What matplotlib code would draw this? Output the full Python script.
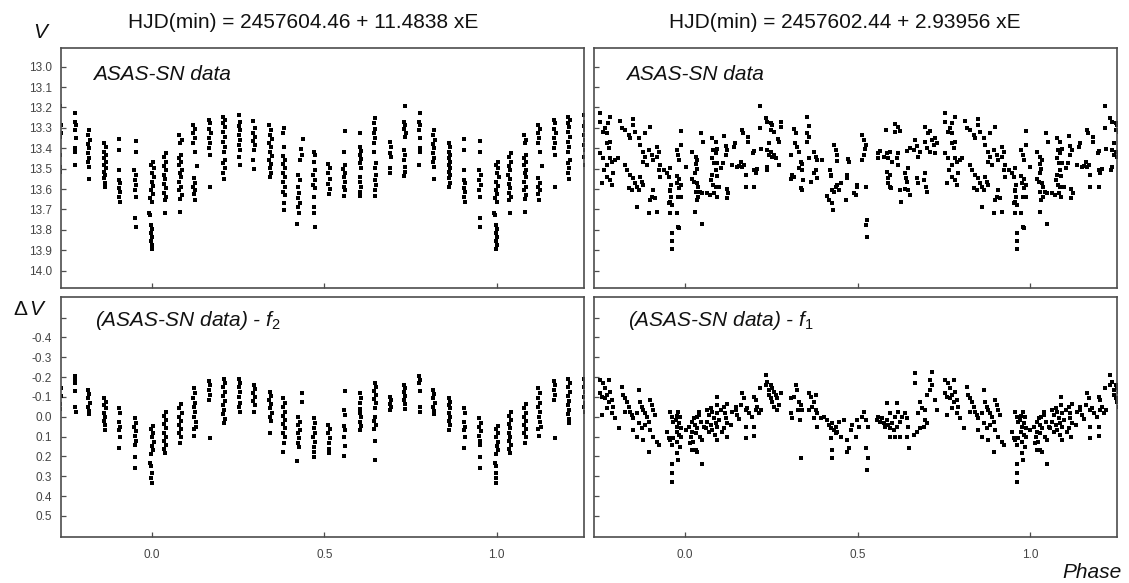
import numpy as np
import matplotlib
matplotlib.use("Agg")
import matplotlib.pyplot as plt
from matplotlib.ticker import FixedLocator, FixedFormatter

plt.rcParams['font.family'] = ['Liberation Sans', 'DejaVu Sans']
plt.rcParams['mathtext.fontset'] = 'custom'
plt.rcParams['mathtext.rm'] = 'Liberation Sans'
plt.rcParams['mathtext.it'] = 'Liberation Sans:italic'
plt.rcParams['axes.unicode_minus'] = False

# ---------------- titles / labels ----------------
title_left = "HJD(min) = 2457604.46 + 11.4838 xE"
title_right = "HJD(min) = 2457602.44 + 2.93956 xE"
label_top = "ASAS-SN data"
label_bl = r"(ASAS-SN data) - $f_2$"
label_br = r"(ASAS-SN data) - $f_1$"

# ---------------- top-left: V vs phase (P = 11.4838 d) ----------------
tl_phase = [
    0.004, -0.002, 0.005, 0.000, 0.006, -0.001, 0.004, -0.003, 0.002, -0.005, 0.001, -0.008, -0.004, -0.003, 0.000, -0.002, 0.001, -0.002, 0.000, -0.001,
    0.042, 0.036, 0.041, 0.035, 0.040, 0.034, 0.039, 0.035, 0.040, 0.036, 0.041, 0.037, 0.038,
    0.080, 0.086, 0.081, 0.084, 0.079, 0.085, 0.080, 0.086, 0.081, 0.085, 0.079, 0.084, 0.080, 0.086, 0.082, 0.083,
    0.119, 0.125, 0.120, 0.124, 0.119, 0.126, 0.130, 0.121, 0.126, 0.120, 0.125, 0.121, 0.124,
    0.166, 0.170, 0.165, 0.171, 0.166, 0.170, 0.165, 0.169, 0.168,
    0.207, 0.212, 0.206, 0.211, 0.207, 0.212, 0.206, 0.211, 0.208, 0.212, 0.207, 0.211, 0.206, 0.210,
    0.254, 0.257, 0.252, 0.256, 0.253, 0.257, 0.252, 0.256, 0.254, 0.255,
    0.294, 0.298, 0.293, 0.298, 0.294, 0.299, 0.295, 0.294, 0.296,
    0.341, 0.346, 0.342, 0.347, 0.341, 0.346, 0.342, 0.347, 0.341, 0.346, 0.342, 0.346, 0.343,
    0.382, 0.381, 0.383, 0.380, 0.386, 0.380, 0.386, 0.381, 0.386, 0.380, 0.385, 0.381, 0.385, 0.382, 0.383,
    0.437, 0.432, 0.435, 0.431, 0.424, 0.429, 0.423, 0.428, 0.424, 0.429, 0.425, 0.428, 0.422,
    0.469, 0.474, 0.469, 0.473, 0.468, 0.473, 0.468, 0.472, 0.469, 0.471, 0.470, 0.472,
    0.512, 0.517, 0.512, 0.516, 0.511, 0.516, 0.513,
    0.560, 0.557, 0.560, 0.555, 0.560, 0.556, 0.561, 0.556, 0.560, 0.558,
    0.604, 0.603, 0.607, 0.603, 0.607, 0.603, 0.606, 0.604, 0.604, 0.606, 0.604, 0.605,
    0.646, 0.645, 0.647, 0.643, 0.648, 0.643, 0.645, 0.650, 0.646, 0.651, 0.647, 0.650, 0.646, 0.648,
    0.691, 0.694, 0.690, 0.694, 0.691, 0.692,
    0.733, 0.731, 0.735, 0.731, 0.736, 0.733, 0.732, 0.733, 0.732, 0.733, 0.734, 0.732,
    0.777, 0.776, 0.779, 0.776, 0.779, 0.778, 0.778, 0.776,
    0.819, 0.816, 0.820, 0.815, 0.819, 0.815, 0.819, 0.816, 0.818, 0.817,
    0.862, 0.866, 0.861, 0.866, 0.861, 0.866, 0.862, 0.866, 0.861, 0.865, 0.862, 0.865, 0.863,
    0.906, 0.906, 0.904, 0.905, 0.909, 0.905, 0.909, 0.906, 0.908,
    0.953, 0.953, 0.949, 0.954, 0.950, 0.954, 0.950, 0.953, 0.951, 0.953,
]
tl_v = [
    13.465, 13.482, 13.498, 13.519, 13.542, 13.563, 13.585, 13.604, 13.624, 13.645, 13.661, 13.715, 13.727, 13.776, 13.797, 13.817, 13.836, 13.857, 13.874, 13.895,
    13.421, 13.441, 13.465, 13.487, 13.509, 13.531, 13.552, 13.575, 13.596, 13.617, 13.637, 13.656, 13.715,
    13.335, 13.359, 13.375, 13.433, 13.449, 13.465, 13.482, 13.506, 13.523, 13.542, 13.563, 13.588, 13.604, 13.629, 13.650, 13.710,
    13.286, 13.307, 13.326, 13.351, 13.375, 13.416, 13.487, 13.547, 13.568, 13.588, 13.604, 13.624, 13.656,
    13.261, 13.277, 13.307, 13.326, 13.351, 13.375, 13.400, 13.433, 13.591,
    13.245, 13.261, 13.277, 13.294, 13.318, 13.343, 13.367, 13.392, 13.416, 13.457, 13.473, 13.498, 13.523, 13.552,
    13.237, 13.269, 13.290, 13.310, 13.335, 13.359, 13.384, 13.408, 13.441, 13.482,
    13.264, 13.302, 13.323, 13.343, 13.362, 13.384, 13.408, 13.457, 13.503,
    13.286, 13.310, 13.335, 13.356, 13.375, 13.395, 13.416, 13.438, 13.457, 13.477, 13.498, 13.519, 13.539,
    13.302, 13.326, 13.392, 13.438, 13.457, 13.477, 13.498, 13.519, 13.539, 13.563, 13.588, 13.612, 13.629, 13.670, 13.702,
    13.356, 13.405, 13.433, 13.457, 13.531, 13.555, 13.588, 13.617, 13.645, 13.670, 13.686, 13.719, 13.771,
    13.416, 13.433, 13.465, 13.506, 13.531, 13.555, 13.580, 13.596, 13.637, 13.686, 13.719, 13.787,
    13.477, 13.498, 13.523, 13.552, 13.575, 13.601, 13.624,
    13.313, 13.416, 13.482, 13.503, 13.523, 13.542, 13.563, 13.588, 13.607, 13.634,
    13.323, 13.392, 13.411, 13.433, 13.454, 13.473, 13.498, 13.542, 13.563, 13.588, 13.612, 13.634,
    13.253, 13.277, 13.307, 13.326, 13.351, 13.375, 13.416, 13.473, 13.498, 13.531, 13.555, 13.580, 13.604, 13.634,
    13.367, 13.392, 13.421, 13.441, 13.498, 13.519,
    13.191, 13.269, 13.286, 13.307, 13.326, 13.343, 13.408, 13.433, 13.457, 13.493, 13.514, 13.536,
    13.225, 13.269, 13.286, 13.310, 13.351, 13.400, 13.416, 13.482,
    13.310, 13.335, 13.359, 13.379, 13.400, 13.425, 13.449, 13.465, 13.493, 13.552,
    13.375, 13.395, 13.416, 13.433, 13.449, 13.465, 13.482, 13.498, 13.514, 13.531, 13.547, 13.568, 13.588,
    13.356, 13.408, 13.506, 13.555, 13.572, 13.596, 13.612, 13.637, 13.661,
    13.362, 13.416, 13.506, 13.531, 13.555, 13.580, 13.604, 13.640, 13.743, 13.787,
]

# ---------------- bottom-left: residual dV vs phase (P = 11.4838 d) ----------------
bl_phase = [
    0.003, -0.002, 0.004, -0.001, 0.005, 0.000, 0.003, -0.003, -0.004, -0.002, -0.001, -0.002, -0.001,
    0.041, 0.036, 0.041, 0.035, 0.040, 0.035, 0.040, 0.036, 0.041, 0.036, 0.038,
    0.085, 0.080, 0.086, 0.080, 0.085, 0.079, 0.084, 0.080, 0.085, 0.081,
    0.121, 0.125, 0.120, 0.126, 0.121, 0.126, 0.122, 0.127, 0.128, 0.121, 0.123,
    0.166, 0.170, 0.165, 0.170, 0.166, 0.168,
    0.208, 0.212, 0.207, 0.212, 0.207, 0.211, 0.206, 0.210, 0.207, 0.211, 0.209,
    0.254, 0.257, 0.252, 0.256, 0.253, 0.257, 0.254, 0.255,
    0.295, 0.299, 0.294, 0.298, 0.294, 0.298, 0.296,
    0.342, 0.346, 0.341, 0.346, 0.342, 0.347, 0.342, 0.345, 0.343,
    0.381, 0.386, 0.381, 0.386, 0.380, 0.385, 0.381, 0.386, 0.381, 0.385, 0.382, 0.381,
    0.436, 0.436, 0.425, 0.430, 0.424, 0.429, 0.424, 0.428, 0.425, 0.427, 0.422,
    0.469, 0.474, 0.469, 0.473, 0.468, 0.472, 0.469, 0.471, 0.470,
    0.512, 0.517, 0.512, 0.516, 0.513, 0.515, 0.514,
    0.560, 0.556, 0.560, 0.557, 0.561, 0.556, 0.559, 0.558,
    0.604, 0.607, 0.603, 0.605, 0.603, 0.607, 0.603, 0.606, 0.604,
    0.646, 0.650, 0.645, 0.649, 0.645, 0.650, 0.646, 0.648, 0.644, 0.649, 0.645, 0.647, 0.648,
    0.691, 0.694, 0.690, 0.693, 0.692,
    0.732, 0.735, 0.731, 0.735, 0.732, 0.734, 0.733,
    0.776, 0.778, 0.776, 0.778, 0.777, 0.779,
    0.815, 0.819, 0.815, 0.820, 0.816, 0.819, 0.817,
    0.862, 0.866, 0.861, 0.866, 0.862, 0.865, 0.861, 0.865, 0.863,
    0.905, 0.909, 0.905, 0.909, 0.906, 0.908, 0.906,
    0.950, 0.954, 0.949, 0.954, 0.950, 0.953, 0.951, 0.952, 0.951,
]
bl_dv = [
    0.047, 0.063, 0.084, 0.104, 0.126, 0.147, 0.168, 0.188, 0.231, 0.251, 0.285, 0.310, 0.332,
    -0.026, -0.004, 0.016, 0.037, 0.058, 0.080, 0.100, 0.121, 0.142, 0.164, 0.181,
    -0.064, -0.042, -0.021, 0.000, 0.020, 0.042, 0.063, 0.084, 0.104, 0.131,
    -0.143, -0.118, -0.093, -0.071, -0.051, -0.026, 0.000, 0.025, 0.050, 0.063, 0.097,
    -0.182, -0.160, -0.135, -0.110, -0.084, 0.109,
    -0.188, -0.168, -0.148, -0.126, -0.104, -0.081, -0.059, -0.034, -0.014, 0.013, 0.033,
    -0.188, -0.168, -0.148, -0.126, -0.101, -0.071, -0.047, -0.026,
    -0.160, -0.138, -0.118, -0.101, -0.081, -0.059, -0.026,
    -0.126, -0.104, -0.084, -0.064, -0.042, -0.021, 0.000, 0.020, 0.080,
    -0.093, -0.071, -0.047, -0.026, -0.004, 0.016, 0.037, 0.058, 0.080, 0.100, 0.134, 0.176,
    -0.118, -0.076, 0.003, 0.025, 0.042, 0.067, 0.084, 0.109, 0.134, 0.154, 0.221,
    0.008, 0.030, 0.058, 0.080, 0.100, 0.126, 0.151, 0.176, 0.204,
    0.042, 0.063, 0.084, 0.109, 0.134, 0.164, 0.181,
    -0.131, -0.034, -0.009, 0.047, 0.067, 0.104, 0.147, 0.198,
    -0.118, -0.093, -0.071, -0.037, -0.017, 0.003, 0.025, 0.047, 0.067,
    -0.172, -0.152, -0.131, -0.110, -0.088, -0.068, -0.042, 0.000, 0.020, 0.042, 0.063, 0.121, 0.218,
    -0.101, -0.084, -0.064, -0.047, -0.034,
    -0.160, -0.143, -0.126, -0.104, -0.084, -0.064, -0.037,
    -0.205, -0.185, -0.168, -0.131, -0.047, -0.026,
    -0.135, -0.115, -0.093, -0.071, -0.051, -0.031, -0.014,
    -0.093, -0.076, -0.059, -0.042, -0.021, 0.000, 0.020, 0.042, 0.067,
    -0.042, -0.021, 0.025, 0.050, 0.067, 0.104, 0.159,
    0.008, 0.030, 0.050, 0.070, 0.097, 0.121, 0.142, 0.201, 0.260,
]

# ---------------- top-right: V vs phase (P = 2.93956 d) ----------------
tr_phase = [
    -0.042, -0.045, -0.042, -0.047, -0.045, -0.038, -0.039, -0.039,
    -0.011, -0.013, -0.025, -0.021, -0.018, 0.001, -0.025, -0.018, -0.023, -0.013, -0.018, -0.021, -0.013, -0.025, -0.021, -0.018,
    0.021, 0.030, 0.035, 0.030, 0.033, 0.028, 0.021, 0.026, 0.035, 0.037, 0.030, 0.037, 0.033, 0.043, 0.050, 0.028, 0.050, 0.045, 0.053,
    0.079, 0.088, 0.082, 0.093, 0.088, 0.079, 0.084, 0.093, 0.088, 0.079, 0.091, 0.074, 0.082, 0.088, 0.064, 0.072, 0.084, 0.091, 0.098,
    0.113, 0.117, 0.122, 0.117, 0.111, 0.103, 0.120, 0.120, 0.124,
    0.144, 0.142, 0.137, 0.151, 0.161, 0.166, 0.156, 0.171, 0.166, 0.169, 0.182, 0.182, 0.175, 0.175,
    0.200, 0.200, 0.204, 0.198, 0.200, 0.219, 0.209,
    0.217, 0.217, 0.233, 0.238, 0.248, 0.253, 0.250, 0.258, 0.243, 0.238, 0.248, 0.243, 0.258, 0.269, 0.272, 0.277, 0.279, 0.272, 0.238, 0.236, 0.253, 0.262,
    0.306, 0.316, 0.321, 0.318, 0.325, 0.330, 0.335, 0.340, 0.330, 0.340, 0.311, 0.316, 0.308, 0.343, 0.335, 0.340,
    0.354, 0.359, 0.354, 0.359, 0.354, 0.359, 0.374, 0.379, 0.383, 0.379, 0.374, 0.383, 0.364, 0.398,
    0.420, 0.424, 0.432, 0.437, 0.439, 0.441, 0.422, 0.427, 0.437, 0.441, 0.432, 0.412, 0.417, 0.427, 0.430,
    0.451, 0.446, 0.466, 0.470, 0.468, 0.472, 0.475, 0.490, 0.495, 0.497, 0.499,
    0.514, 0.519, 0.524, 0.521, 0.519, 0.514, 0.524, 0.527, 0.524, 0.527,
    0.582, 0.607, 0.616, 0.609, 0.623, 0.558, 0.565, 0.575, 0.560, 0.585, 0.594, 0.589, 0.601, 0.616, 0.613, 0.618,
    0.585, 0.594, 0.589, 0.587, 0.594, 0.597, 0.623, 0.636, 0.645, 0.652, 0.626, 0.638, 0.645, 0.640, 0.643,
    0.667, 0.672, 0.662, 0.676, 0.681, 0.696, 0.698, 0.701, 0.691, 0.672, 0.676, 0.643, 0.652,
    0.696, 0.703, 0.710, 0.715, 0.725, 0.694, 0.701, 0.720, 0.710, 0.725, 0.730,
    0.752, 0.754, 0.768, 0.775, 0.781, 0.763, 0.773, 0.783, 0.773, 0.778, 0.754, 0.761, 0.765, 0.773, 0.783, 0.788, 0.797, 0.804, 0.792, 0.773, 0.783, 0.759, 0.788,
    0.812, 0.817, 0.826, 0.836, 0.841, 0.849, 0.850, 0.855, 0.865, 0.870, 0.826, 0.831, 0.841, 0.850, 0.855, 0.860, 0.836, 0.846, 0.870, 0.875, 0.879, 0.865,
    0.879, 0.884, 0.879, 0.889, 0.894, 0.904, 0.908, 0.899, 0.884, 0.908, 0.904, 0.899, 0.913, 0.918, 0.894, 0.860,
    0.918, 0.923, 0.918, 0.928, 0.923, 0.928, 0.938, 0.947, 0.957, 0.952, 0.955, 0.962, 0.957,
]
tr_v = [
    13.580, 13.610, 13.637, 13.670, 13.718, 13.815, 13.856, 13.895,
    13.313, 13.384, 13.408, 13.433, 13.457, 13.493, 13.536, 13.552, 13.571, 13.580, 13.596, 13.637, 13.637, 13.719, 13.784, 13.792,
    13.416, 13.441, 13.457, 13.477, 13.503, 13.519, 13.552, 13.563, 13.568, 13.588, 13.612, 13.637, 13.653, 13.612, 13.621, 13.710, 13.771, 13.326, 13.367,
    13.351, 13.367, 13.408, 13.405, 13.424, 13.449, 13.470, 13.473, 13.506, 13.531, 13.536, 13.558, 13.580, 13.588, 13.621, 13.629, 13.621, 13.637, 13.588,
    13.340, 13.389, 13.408, 13.433, 13.470, 13.498, 13.601, 13.645, 13.621,
    13.372, 13.395, 13.482, 13.490, 13.465, 13.493, 13.487, 13.482, 13.310, 13.326, 13.343, 13.367, 13.531, 13.591,
    13.591, 13.506, 13.523, 13.424, 13.411, 13.405, 13.503,
    13.191, 13.302, 13.253, 13.269, 13.277, 13.286, 13.310, 13.318, 13.375, 13.408, 13.416, 13.433, 13.433, 13.356, 13.367, 13.269, 13.294, 13.482, 13.490, 13.509, 13.441, 13.449,
    13.433, 13.307, 13.326, 13.375, 13.392, 13.416, 13.465, 13.477, 13.498, 13.506, 13.531, 13.542, 13.552, 13.555, 13.596, 13.604,
    13.245, 13.290, 13.326, 13.343, 13.367, 13.449, 13.416, 13.441, 13.457, 13.506, 13.523, 13.547, 13.563, 13.457,
    13.506, 13.531, 13.384, 13.408, 13.433, 13.460, 13.536, 13.604, 13.588, 13.580, 13.612, 13.634, 13.653, 13.670, 13.702,
    13.571, 13.604, 13.653, 13.547, 13.531, 13.454, 13.465, 13.621, 13.629, 13.580, 13.591,
    13.335, 13.359, 13.384, 13.405, 13.433, 13.457, 13.588, 13.751, 13.776, 13.833,
    13.310, 13.281, 13.297, 13.318, 13.313, 13.424, 13.411, 13.441, 13.449, 13.424, 13.416, 13.449, 13.465, 13.421, 13.449, 13.482,
    13.514, 13.531, 13.547, 13.571, 13.588, 13.596, 13.604, 13.601, 13.607, 13.629, 13.661, 13.523, 13.498, 13.547, 13.563,
    13.359, 13.389, 13.408, 13.441, 13.416, 13.523, 13.588, 13.612, 13.555, 13.547, 13.571, 13.411, 13.400,
    13.294, 13.326, 13.313, 13.359, 13.351, 13.367, 13.400, 13.384, 13.416, 13.424, 13.375,
    13.228, 13.269, 13.302, 13.277, 13.245, 13.318, 13.326, 13.367, 13.375, 13.400, 13.424, 13.449, 13.506, 13.482, 13.449, 13.465, 13.457, 13.449, 13.523, 13.539, 13.555, 13.568, 13.580,
    13.264, 13.302, 13.310, 13.335, 13.351, 13.258, 13.286, 13.318, 13.351, 13.384, 13.482, 13.506, 13.531, 13.547, 13.571, 13.588, 13.596, 13.604, 13.539, 13.563, 13.580, 13.604,
    13.416, 13.441, 13.465, 13.482, 13.408, 13.433, 13.457, 13.297, 13.326, 13.604, 13.637, 13.653, 13.645, 13.710, 13.715, 13.689,
    13.392, 13.416, 13.441, 13.482, 13.506, 13.539, 13.506, 13.523, 13.498, 13.539, 13.661, 13.678, 13.604,
]

# ---------------- bottom-right: residual dV vs phase (P = 2.93956 d) ----------------
br_phase = [
    -0.021, -0.025, -0.015, -0.028, -0.018, -0.023, -0.013, -0.025, -0.018, -0.011, -0.023, -0.015, -0.023, -0.021,
    0.001, 0.011, 0.021, 0.026, 0.033, 0.040, 0.028, 0.035, 0.021, 0.030, 0.016, 0.024, 0.014, 0.021, 0.030, 0.035, 0.050, 0.040, 0.045, 0.055, 0.043, 0.050,
    0.064, 0.074, 0.069, 0.079, 0.084, 0.064, 0.074, 0.088, 0.079, 0.069, 0.086, 0.093, 0.059, 0.091, 0.093, 0.098, 0.093,
    0.091, 0.103, 0.113, 0.122, 0.115, 0.117, 0.122, 0.113, 0.120, 0.108, 0.132, 0.137, 0.146, 0.151, 0.156, 0.146,
    0.166, 0.171, 0.161, 0.175, 0.180, 0.185, 0.175, 0.175, 0.200, 0.200, 0.195, 0.204, 0.209, 0.214, 0.219, 0.200, 0.204, 0.217,
    0.233, 0.238, 0.248, 0.243, 0.253, 0.258, 0.243, 0.248, 0.253, 0.262, 0.267, 0.277, 0.258, 0.267, 0.233, 0.272,
    0.306, 0.316, 0.321, 0.325, 0.330, 0.335, 0.327, 0.340, 0.311, 0.333, 0.335, 0.306,
    0.359, 0.364, 0.374, 0.379, 0.369, 0.379, 0.359, 0.383, 0.374, 0.383, 0.393,
    0.403, 0.412, 0.417, 0.422, 0.427, 0.432, 0.437, 0.441, 0.422, 0.427, 0.427, 0.437, 0.446, 0.451, 0.461, 0.470, 0.475, 0.470, 0.480, 0.485, 0.495, 0.499, 0.504,
    0.514, 0.519, 0.524, 0.529, 0.524, 0.529, 0.527,
    0.555, 0.560, 0.565, 0.570, 0.575, 0.580, 0.585, 0.589, 0.594, 0.599, 0.585, 0.594, 0.609, 0.613, 0.618, 0.604, 0.613, 0.623, 0.628, 0.638, 0.643, 0.647,
    0.594, 0.609, 0.623, 0.643, 0.649, 0.662, 0.672, 0.681, 0.691, 0.681, 0.676, 0.686, 0.696, 0.696, 0.701, 0.701, 0.710, 0.715, 0.725, 0.730, 0.710, 0.665, 0.717, 0.665,
    0.754, 0.763, 0.768, 0.778, 0.754, 0.759, 0.773, 0.783, 0.768, 0.778, 0.788, 0.792, 0.773, 0.759, 0.788, 0.797, 0.807,
    0.817, 0.821, 0.826, 0.831, 0.836, 0.826, 0.841, 0.846, 0.850, 0.860, 0.865, 0.870, 0.875, 0.879, 0.884, 0.889, 0.894, 0.899, 0.904, 0.908, 0.913,
    0.865, 0.875, 0.884, 0.850, 0.860, 0.879, 0.894, 0.899, 0.908, 0.918, 0.923,
    0.957, 0.962, 0.966, 0.966, 0.957, 0.962, 0.947, 0.952, 0.962, 0.962, 0.962,
]
br_dv = [
    -0.026, -0.004, 0.003, 0.016, 0.030, 0.050, 0.058, 0.075, 0.092, 0.100, 0.126, 0.151, 0.181, 0.218,
    0.067, 0.050, 0.025, 0.008, 0.000, -0.009, 0.042, 0.058, 0.075, 0.084, 0.100, 0.126, 0.134, 0.168, 0.168, 0.176, 0.238, -0.026, 0.025, 0.050, 0.100, 0.117,
    -0.034, -0.042, -0.009, -0.026, 0.008, 0.025, 0.042, 0.033, 0.067, 0.075, 0.092, 0.117, 0.058, -0.059, -0.017, 0.016, 0.050,
    -0.101, -0.034, -0.051, -0.064, -0.017, 0.008, 0.033, 0.058, 0.100, 0.075, 0.042, -0.026, -0.051, -0.009, 0.013, -0.034,
    -0.118, -0.093, -0.059, -0.034, -0.042, -0.017, 0.050, 0.109, 0.050, 0.097, 0.000, -0.034, -0.051, -0.017, -0.034, -0.101, -0.084, -0.143,
    -0.210, -0.177, -0.160, -0.135, -0.143, -0.126, -0.110, -0.093, -0.076, -0.110, -0.093, -0.118, -0.051, -0.034, -0.160, -0.059,
    -0.093, -0.101, -0.160, -0.135, -0.076, -0.059, -0.034, -0.034, 0.008, 0.016, 0.210, -0.017,
    -0.118, -0.101, -0.076, -0.110, -0.051, -0.034, -0.034, -0.017, 0.008, 0.050, 0.008,
    0.003, 0.016, 0.042, 0.058, 0.033, 0.067, 0.050, 0.075, 0.109, 0.168, 0.210, 0.084, 0.025, 0.100, 0.016, 0.176, 0.159, 0.117, 0.067, 0.042, 0.100, 0.016, 0.050,
    0.000, -0.026, 0.016, 0.050, 0.159, 0.210, 0.268,
    0.016, 0.000, 0.025, 0.008, 0.033, 0.050, 0.016, 0.042, 0.058, 0.033, -0.071, -0.017, 0.000, -0.068, -0.026, 0.067, 0.050, 0.025, 0.000, -0.017, 0.008, 0.050,
    0.100, 0.104, 0.100, 0.100, 0.159, 0.092, 0.075, 0.058, 0.050, -0.076, -0.017, -0.042, -0.034, 0.016, 0.033, -0.110, -0.135, -0.160, -0.084, -0.034, -0.185, -0.222, -0.227, -0.172,
    -0.185, -0.168, -0.143, -0.185, -0.118, -0.101, -0.110, -0.126, -0.093, -0.076, -0.084, -0.051, -0.042, -0.009, -0.017, 0.008, 0.058,
    -0.152, -0.110, -0.093, -0.076, -0.051, -0.026, -0.026, -0.009, 0.008, -0.017, -0.135, -0.076, -0.051, -0.034, -0.017, 0.000, 0.025, -0.084, -0.059, -0.034, -0.009,
    0.033, 0.058, 0.042, 0.067, 0.100, 0.117, 0.176, 0.067, 0.100, 0.126, 0.142,
    -0.026, 0.000, 0.025, 0.109, 0.117, 0.142, 0.075, 0.109, 0.238, 0.285, 0.327,
]

# ---------------- axes values ----------------
phase_ticks = [0.0, 0.5, 1.0]
phase_labels = ["0.0", "0.5", "1.0"]
v_ticks = [13.0, 13.1, 13.2, 13.3, 13.4, 13.5, 13.6, 13.7, 13.8, 13.9, 14.0]
v_labels = ["13.0", "13.1", "13.2", "13.3", "13.4", "13.5", "13.6", "13.7", "13.8", "13.9", "14.0"]
dv_ticks = [-0.5, -0.4, -0.3, -0.2, -0.1, 0.0, 0.1, 0.2, 0.3, 0.4, 0.5]
dv_labels = ["", "-0.4", "-0.3", "-0.2", "-0.1", "0.0", "0.1", "0.2", "0.3", "0.4", "0.5"]

W, H = 1129, 583
fig = plt.figure(figsize=(W / 100, H / 100), dpi=100)

def rect(x0, y0, x1, y1):
    return [x0 / W, 1 - y1 / H, (x1 - x0) / W, (y1 - y0) / H]

ax_tl = fig.add_axes(rect(60.5, 48.3, 583.6, 288.0))
ax_tr = fig.add_axes(rect(593.8, 48.3, 1117.0, 288.0))
ax_bl = fig.add_axes(rect(60.5, 296.7, 583.6, 536.7))
ax_br = fig.add_axes(rect(593.8, 296.7, 1117.0, 536.7))

spine_col = '#4d4d4d'
tick_col = '#444444'

def style(ax, yt, yl, ylim, show_y, show_x):
    ax.set_xlim(-0.265, 1.252)
    ax.set_ylim(*ylim)
    for s in ax.spines.values():
        s.set_color(spine_col)
        s.set_linewidth(1.2)
    ax.xaxis.set_major_locator(FixedLocator(phase_ticks))
    ax.xaxis.set_major_formatter(FixedFormatter(phase_labels))
    ax.yaxis.set_major_locator(FixedLocator(yt))
    ax.yaxis.set_major_formatter(FixedFormatter(yl))
    ax.tick_params(direction='in', length=3.5, width=0.9, color=spine_col,
                   labelsize=8.5, labelcolor=tick_col, top=False, right=False)
    ax.tick_params(axis='y', pad=6.0, labelleft=show_y)
    ax.tick_params(axis='x', pad=9.0, labelbottom=show_x)

def draw(ax, ph, val):
    ph = np.asarray(ph)
    val = np.asarray(val)
    for k in (-1, 0, 1):
        ax.plot(ph + k, val, linestyle='none', marker='s', markersize=3.5,
                markeredgewidth=0, color='black')

draw(ax_tl, tl_phase, tl_v)
draw(ax_tr, tr_phase, tr_v)
draw(ax_bl, bl_phase, bl_dv)
draw(ax_br, br_phase, br_dv)

style(ax_tl, v_ticks, v_labels, (14.085, 12.91), True, False)
style(ax_tr, v_ticks, v_labels, (14.085, 12.91), False, False)
style(ax_bl, dv_ticks, dv_labels, (0.605, -0.605), True, True)
style(ax_br, dv_ticks, dv_labels, (0.605, -0.605), False, True)

def ftext(x, y, s, **kw):
    fig.text(x / W, 1 - y / H, s, **kw)

ftext(303, 28, title_left, fontsize=15, ha='center', va='baseline', color='#111111')
ftext(845, 28, title_right, fontsize=15, ha='center', va='baseline', color='#111111')
ftext(40, 38, "V", fontsize=15, style='italic', ha='center', va='baseline', color='#111111')
ftext(30, 315, r"$\Delta\,V$", fontsize=15, ha='center', va='baseline', color='#111111')
ftext(93, 80, label_top, fontsize=15, style='italic', ha='left', va='baseline', color='#111111')
ftext(626, 80, label_top, fontsize=15, style='italic', ha='left', va='baseline', color='#111111')
ftext(95, 326, label_bl, fontsize=15, style='italic', ha='left', va='baseline', color='#111111')
ftext(628, 326, label_br, fontsize=15, style='italic', ha='left', va='baseline', color='#111111')
ftext(1122, 578, "Phase", fontsize=15, style='italic', ha='right', va='baseline', color='#111111')

fig.savefig("out.png", dpi=100)
